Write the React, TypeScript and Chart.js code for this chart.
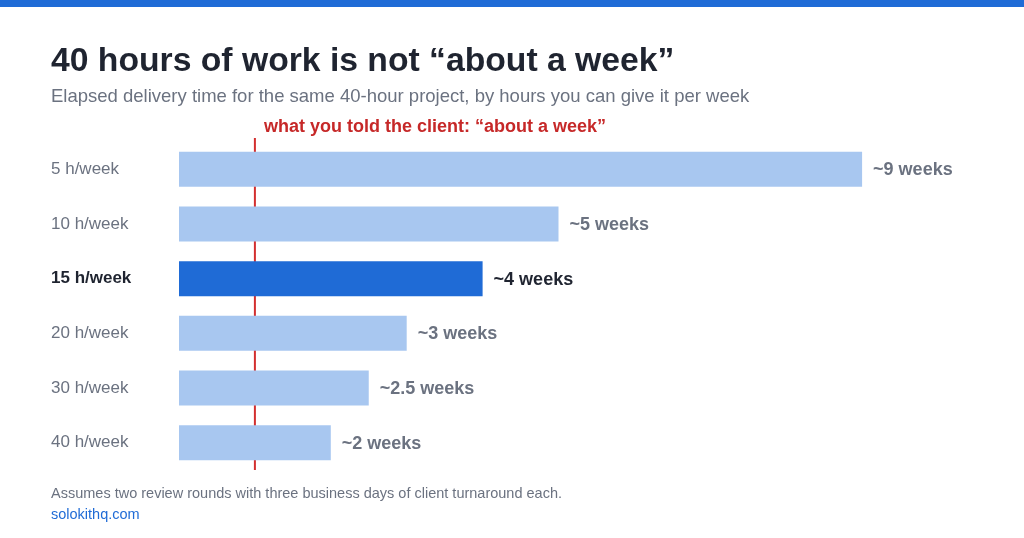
import React, { useEffect, useRef } from 'react';
import { Chart, registerables } from 'chart.js';

Chart.register(...registerables);

// hours per week you can give the project
const categories = ['5 h/week', '10 h/week', '15 h/week', '20 h/week', '30 h/week', '40 h/week'];
// elapsed delivery time, in weeks
const weeks = [9, 5, 4, 3, 2.5, 2];
const valueLabels = ['~9 weeks', '~5 weeks', '~4 weeks', '~3 weeks', '~2.5 weeks', '~2 weeks'];
const highlightIndex = 2;
const promisedWeeks = 1;
const promisedLabel = 'what you told the client: \u201cabout a week\u201d';

const FONT = '"Liberation Sans", Arial, Helvetica, sans-serif';
const BLUE = '#1f6bd6';
const LIGHT_BLUE = '#a8c7f0';
const RED = '#d32f2f';
const GRAY = '#6b7280';
const DARK = '#1f2430';

const overlayPlugin = {
    id: 'overlay',
    beforeDatasetsDraw(chart: any) {
        const { ctx, chartArea, scales } = chart;
        const x = scales.x.getPixelForValue(promisedWeeks);
        ctx.save();
        ctx.strokeStyle = RED;
        ctx.lineWidth = 2;
        ctx.beginPath();
        ctx.moveTo(x, chartArea.top - 4);
        ctx.lineTo(x, chartArea.bottom);
        ctx.stroke();
        ctx.fillStyle = '#c62828';
        ctx.font = `bold 18px ${FONT}`;
        ctx.textAlign = 'left';
        ctx.textBaseline = 'alphabetic';
        ctx.fillText(promisedLabel, x + 9, chartArea.top - 10);
        ctx.restore();
    },
    afterDatasetsDraw(chart: any) {
        const { ctx } = chart;
        const meta = chart.getDatasetMeta(0);
        ctx.save();
        ctx.font = `bold 18px ${FONT}`;
        ctx.textAlign = 'left';
        ctx.textBaseline = 'middle';
        meta.data.forEach((bar: any, i: number) => {
            ctx.fillStyle = i === highlightIndex ? DARK : GRAY;
            ctx.fillText(valueLabels[i], bar.x + 11, bar.y + 1);
        });
        ctx.restore();
    },
};

const App: React.FC = () => {
    const chartRef = useRef<HTMLCanvasElement | null>(null);

    useEffect(() => {
        document.body.style.margin = '0';
        if (!chartRef.current) return;

        const myChart = new Chart(chartRef.current, {
            type: 'bar',
            data: {
                labels: categories,
                datasets: [
                    {
                        data: weeks,
                        backgroundColor: weeks.map((_, i) => (i === highlightIndex ? BLUE : LIGHT_BLUE)),
                        borderWidth: 0,
                        barPercentage: 0.8,
                        categoryPercentage: 0.8,
                    },
                ],
            },
            options: {
                indexAxis: 'y',
                responsive: false,
                animation: false,
                layout: { padding: { left: 51, right: 86, top: 142, bottom: 68 } },
                plugins: {
                    legend: { display: false },
                    tooltip: { enabled: false },
                },
                scales: {
                    x: {
                        display: false,
                        min: 0,
                        max: 10,
                    },
                    y: {
                        grid: { display: false },
                        border: { display: false },
                        afterFit: (scale: any) => {
                            scale.width = 128;
                        },
                        ticks: {
                            crossAlign: 'far',
                            padding: 0,
                            color: (c: any) => (c.index === highlightIndex ? DARK : GRAY),
                            font: (c: any) => ({
                                family: FONT,
                                size: 17,
                                weight: c.index === highlightIndex ? 'bold' : 'normal',
                            }),
                        },
                    },
                },
            },
            plugins: [overlayPlugin],
        });

        return () => {
            myChart.destroy();
        };
    }, []);

    return (
        <div style={{ position: 'relative', width: 1024, height: 538, background: '#fff', fontFamily: FONT, overflow: 'hidden' }}>
            <div style={{ position: 'absolute', left: 0, top: 0, width: 1024, height: 7, background: BLUE }} />
            <canvas ref={chartRef} width={1024} height={538} style={{ position: 'absolute', left: 0, top: 0, width: 1024, height: 538 }} />
            <div style={{ position: 'absolute', left: 51, top: 42.5, fontSize: 33.7, lineHeight: '33.7px', fontWeight: 'bold', color: DARK, whiteSpace: 'nowrap' }}>
                40 hours of work is not “about a week”
            </div>
            <div style={{ position: 'absolute', left: 51, top: 86.5, fontSize: 18.5, lineHeight: '18.5px', color: GRAY, whiteSpace: 'nowrap' }}>
                Elapsed delivery time for the same 40-hour project, by hours you can give it per week
            </div>
            <div style={{ position: 'absolute', left: 51, top: 485.5, fontSize: 14.5, lineHeight: '14.5px', color: GRAY, whiteSpace: 'nowrap' }}>
                Assumes two review rounds with three business days of client turnaround each.
            </div>
            <div style={{ position: 'absolute', left: 51, top: 506.5, fontSize: 14.5, lineHeight: '14.5px', color: BLUE, whiteSpace: 'nowrap' }}>
                solokithq.com
            </div>
        </div>
    );
};

export default App;
